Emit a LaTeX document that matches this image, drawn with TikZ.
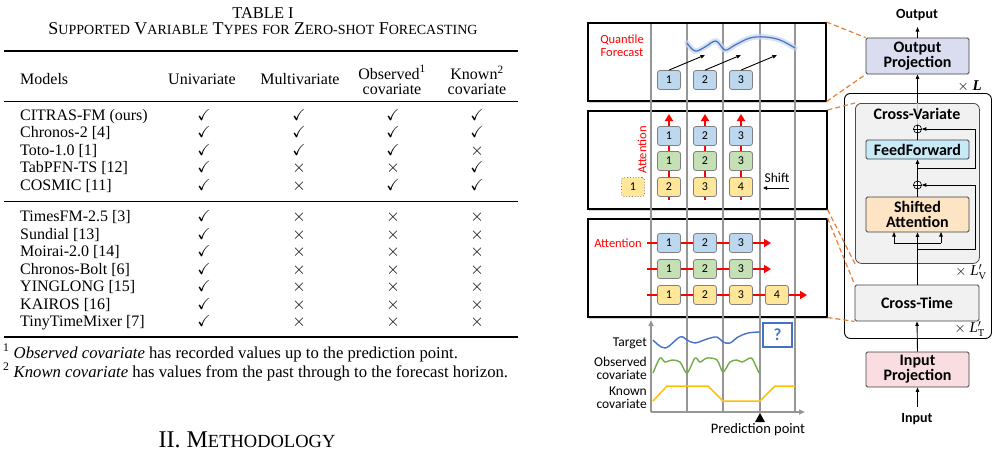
\documentclass[tikz,border=0pt]{standalone}
\usepackage{fontspec}
\usepackage{amssymb}
\setmainfont{Liberation Serif}
\newfontfamily\cf{Carlito}
\usetikzlibrary{arrows.meta,shadows,calc}
\definecolor{cblue}{HTML}{BDD7EE}
\definecolor{cgreen}{HTML}{C5E0B4}
\definecolor{cyellow}{HTML}{FFE699}
\definecolor{cred}{HTML}{FF0000}
\definecolor{lblue}{HTML}{4472C4}
\definecolor{lgreen}{HTML}{70AD47}
\definecolor{lyellow}{HTML}{FFC000}
\definecolor{corange}{HTML}{ED7D31}
\definecolor{opfill}{RGB}{218,221,240}
\definecolor{fffill}{RGB}{200,234,247}
\definecolor{safill}{RGB}{253,228,196}
\definecolor{ipfill}{RGB}{250,221,225}
\definecolor{gfill}{RGB}{241,241,241}
\definecolor{sepgray}{RGB}{150,150,150}
\newcommand\smc[1]{{\fontsize{14}{16}\selectfont #1}}
\newcommand\ck{$\checkmark$}
\newcommand\xx{$\times$}
\tikzset{
  tb/.style={font=\fontsize{16}{18}\selectfont, inner sep=0pt, text height=11pt, text depth=3.5pt},
  tok/.style={draw=gray, rounded corners=2.5pt, minimum width=23pt, minimum height=19pt, inner sep=0pt, font=\cf\fontsize{12}{14}\selectfont, line width=0.8pt},
  panel/.style={draw=black, line width=1.5pt, fill=white, drop shadow={shadow xshift=1.5pt, shadow yshift=-2.5pt, opacity=0.35}, inner sep=0pt, anchor=north west},
  blk/.style={draw=black!75, line width=0.8pt, rounded corners=1.5pt, minimum width=103pt, inner sep=0pt, font=\cf\bfseries\fontsize{16}{16}\selectfont, align=center},
  redarr/.style={cred, line width=2.5pt, -{Triangle[length=7pt,width=8pt]}},
  sepline/.style={sepgray, line width=1.5pt},
  odash/.style={corange, line width=1.2pt, dash pattern=on 5pt off 3pt},
  arr/.style={line width=0.9pt, -{Triangle[length=4.5pt,width=3.5pt]}},
  lbl/.style={font=\cf\fontsize{13.5}{14}\selectfont, inner sep=0pt, anchor=east},
}
\begin{document}
\begin{tikzpicture}[x=1pt,y=-1pt]
\useasboundingbox (0,0) rectangle (998,451);
% ================= TABLE =================
\node[font=\fontsize{16.5}{18}\selectfont, inner sep=0pt] (cap1) at (263,13) {TABLE I};
\node[font=\fontsize{18}{18}\selectfont, inner sep=0pt] (cap2) at (263,29) {S\smc{UPPORTED} V\smc{ARIABLE} T\smc{YPES} \smc{FOR} Z\smc{ERO-SHOT} F\smc{ORECASTING}};
\draw[line width=1.2pt] (4,51) -- (518,51);
\node[tb, anchor=west] (hm) at (20,81) {Models};
\node[tb] (hu) at (202,81) {Univariate};
\node[tb] (hmv) at (300,81) {Multivariate};
\node[tb, align=center, text height=, text depth=, font=\fontsize{16}{15}\selectfont] (ho) at (392,80) {Observed\textsuperscript{1}\\covariate};
\node[tb, align=center, text height=, text depth=, font=\fontsize{16}{15}\selectfont] (hk) at (477,80) {Known\textsuperscript{2}\\covariate};
\draw[line width=0.6pt] (4,101) -- (518,101);
\foreach \nm/\y/\a/\b/\c/\d [count=\i] in {
 {CITRAS-FM (ours)}/116.5/\ck/\ck/\ck/\ck,
 {Chronos-2 [4]}/134/\ck/\ck/\ck/\ck,
 {Toto-1.0 [1]}/151.5/\ck/\ck/\ck/\xx,
 {TabPFN-TS [12]}/169/\ck/\xx/\xx/\ck,
 {COSMIC [11]}/186.5/\ck/\xx/\ck/\ck,
 {TimesFM-2.5 [3]}/218/\ck/\xx/\xx/\xx,
 {Sundial [13]}/235.5/\ck/\xx/\xx/\xx,
 {Moirai-2.0 [14]}/253/\ck/\xx/\xx/\xx,
 {Chronos-Bolt [6]}/270.5/\ck/\xx/\xx/\xx,
 {YINGLONG [15]}/288/\ck/\xx/\xx/\xx,
 {KAIROS [16]}/305.5/\ck/\xx/\xx/\xx,
 {TinyTimeMixer [7]}/323/\ck/\xx/\xx/\xx}{
  \node[tb, anchor=west] (m\i) at (20,\y) {\nm};
  \node[tb] (ma\i) at (204,\y) {\a};
  \node[tb] (mb\i) at (299,\y) {\b};
  \node[tb] (mc\i) at (393,\y) {\c};
  \node[tb] (md\i) at (477,\y) {\d};
}
\draw[line width=0.6pt] (4,201) -- (518,201);
\draw[line width=1.2pt] (4,337) -- (518,337);
\node[anchor=west, font=\fontsize{16.7}{18}\selectfont, inner sep=0pt] (fn1) at (3,353) {\textsuperscript{1} \textit{Observed covariate} has recorded values up to the prediction point.};
\node[anchor=west, font=\fontsize{16.7}{18}\selectfont, inner sep=0pt] (fn2) at (3,372) {\textsuperscript{2} \textit{Known covariate} has values from the past through to the forecast horizon.};
\node[font=\fontsize{24}{26}\selectfont, inner sep=0pt] (sec) at (247,440) {II. M{\fontsize{18.5}{20}\selectfont ETHODOLOGY}};
% ================= PANELS =================
\node[panel, minimum width=238pt, minimum height=78pt] (p1) at (587,22) {};
\node[panel, minimum width=239pt, minimum height=98pt] (p2) at (587,110) {};
\node[panel, minimum width=239pt, minimum height=98pt] (p3) at (587,218) {};
% separators
\draw[sepline] (651,24) -- (651,316);
\foreach \x in {687,723,760,795} \draw[sepline] (\x,24) -- (\x,412);
\coordinate (org) at (651,412);
\coordinate (yax) at (651,320);
\coordinate (xax) at (805,412);
\draw[sepline, -{Triangle[length=6pt,width=5pt]}] (org) -- (yax);
\draw[sepline, -{Triangle[length=6pt,width=5pt]}] (org) -- (xax);
% panel 1
\node[font=\cf\fontsize{12.5}{13}\selectfont, text=cred, align=center, inner sep=0pt] (qf) at (622,45.5) {Quantile\\Forecast};
\draw[lblue!30, line width=5.5pt, line cap=round, opacity=0.7] plot[smooth, tension=0.6] coordinates {(687,43) (695,51) (705,47) (716,41) (725,50) (735,45) (750,38) (765,37) (780,40) (795,48)};
\draw[lblue, line width=1.2pt] plot[smooth, tension=0.6] coordinates {(687,43) (695,51) (705,47) (716,41) (725,50) (735,45) (750,38) (765,37) (780,40) (795,48)};
\foreach \x/\t [count=\i] in {669/1,705/2,741/3}{
  \node[tok, fill=cblue] (q\i) at (\x,80) {\t};
  \coordinate (qa\i) at (\x+36,55);
  \draw[arr] (q\i.north) -- (qa\i);
}
% panel 2
\foreach \x [count=\i] in {669,705,741}{
  \coordinate (vs\i) at (\x,200);
  \coordinate (ve\i) at (\x,114);
  \draw[redarr] (vs\i) -- (ve\i);
}
\foreach \x/\t [count=\i] in {669/1,705/2,741/3}{
  \node[tok, fill=cblue] (b\i) at (\x,136) {\t};
  \node[tok, fill=cgreen] (g\i) at (\x,161) {\t};
}
\foreach \x/\t [count=\i] in {669/2,705/3,741/4}{
  \node[tok, fill=cyellow] (y\i) at (\x,187) {\t};
}
\node[tok, fill=cyellow, dotted] (y0) at (633,187) {1};
\node[font=\cf\fontsize{12.5}{13}\selectfont, text=cred, rotate=90, inner sep=0pt] (att1) at (642,150) {Attention};
\node[font=\cf\fontsize{13.5}{14}\selectfont, inner sep=0pt] (shift) at (777,178) {Shift};
\coordinate (sh1) at (789,188);
\coordinate (sh2) at (763,188);
\draw[line width=0.8pt, -{Triangle[length=4pt,width=3.5pt]}] (sh1) -- (sh2);
% panel 3
\foreach \y/\e [count=\i] in {243/771,269/771,295/807}{
  \coordinate (hs\i) at (647,\y);
  \coordinate (he\i) at (\e,\y);
  \draw[redarr] (hs\i) -- (he\i);
}
\foreach \x/\t [count=\i] in {669/1,705/2,741/3}{
  \node[tok, fill=cblue] (hb\i) at (\x,243) {\t};
  \node[tok, fill=cgreen] (hg\i) at (\x,269) {\t};
  \node[tok, fill=cyellow] (hy\i) at (\x,295) {\t};
}
\node[tok, fill=cyellow] (hy4) at (777,295) {4};
\node[font=\cf\fontsize{12.5}{13}\selectfont, text=cred, anchor=east, inner sep=0pt] (att2) at (642,243) {Attention};
% bottom chart
\draw[lblue, line width=1.4pt] plot[smooth, tension=0.6] coordinates {(653,340) (665,348) (680,337) (687,340) (695,343) (707,339) (717,337) (723,342) (730,343) (738,337) (748,333) (760,332)};
\draw[lgreen, line width=1.4pt] plot[smooth, tension=0.5] coordinates {(653,373) (660,358) (665,362) (672,360) (680,362) (687,373) (695,358) (700,362) (707,358) (717,360) (723,372) (730,362) (737,360) (742,362) (750,358) (753,360) (759,373)};
\draw[lyellow, line width=1.5pt] (653,401) -- (667,386) -- (708,386) -- (723,401) -- (760,401) -- (775,386) -- (795,386);
\node[draw=lblue, line width=1.2pt, minimum width=29pt, minimum height=24pt, inner sep=0pt, text=lblue, font=\cf\bfseries\fontsize{17}{17}\selectfont] (qm) at (777.5,335) {?};
\node[lbl] (lt) at (647,343) {Target};
\node[lbl] (lo1) at (647,361.5) {Observed};
\node[lbl] (lo2) at (647,374.5) {covariate};
\node[lbl] (lk1) at (647,391.5) {Known};
\node[lbl] (lk2) at (647,403.5) {covariate};
\fill (760,413) -- (755,422) -- (765,422) -- cycle;
\node[font=\cf\fontsize{14.5}{15}\selectfont, inner sep=0pt] (pp) at (758,430) {Prediction point};
% ================= RIGHT BLOCKS =================
\node[draw, line width=0.9pt, rounded corners=6pt, minimum width=147pt, minimum height=245pt, anchor=north west, inner sep=0pt] (outer) at (844,93) {};
\node[blk, fill=opfill, minimum height=36pt] (outp) at (917.5,56) {Output\\[-1pt]Projection};
\node[font=\cf\bfseries\fontsize{14}{14}\selectfont, inner sep=0pt] (outl) at (917,15) {Output};
\coordinate (outt) at (917.5,27);
\draw[arr] (outp.north) -- (outt);
\node[draw=black!70, line width=0.8pt, fill=gfill, rounded corners=6pt, minimum width=124pt, minimum height=160pt, anchor=north west, inner sep=0pt] (cv) at (855,103) {};
\node[draw, circle, inner sep=0pt, minimum size=8pt, line width=0.7pt, fill=white] (pl1) at (917.5,129) {};
\draw[line width=0.7pt] (pl1.north) -- (pl1.south) (pl1.west) -- (pl1.east);
\draw[arr] (pl1.north) -- (outp.south);
\draw[gray!45, line width=0.9pt] (pl1.north) -- (cv.north);
\node[font=\cf\bfseries\fontsize{16}{16}\selectfont, inner sep=0pt] (cvt) at (917,114) {Cross-Variate};
\node[blk, fill=fffill, minimum height=19pt] (ff) at (917.5,149.5) {FeedForward};
\node[draw, circle, inner sep=0pt, minimum size=8pt, line width=0.7pt, fill=white] (pl2) at (917.5,185) {};
\draw[line width=0.7pt] (pl2.north) -- (pl2.south) (pl2.west) -- (pl2.east);
\node[blk, fill=safill, minimum height=35pt] (sa) at (917.5,214.5) {Shifted\\[-1pt]Attention};
\node[blk, fill=gfill, minimum width=124pt, minimum height=36pt] (ct) at (917,303) {Cross-Time};
\node[blk, fill=ipfill, minimum height=35pt] (inp) at (917.5,369.5) {Input\\[-1pt]Projection};
\node[font=\cf\bfseries\fontsize{14}{14}\selectfont, inner sep=0pt] (inl) at (917,419) {Input};
\coordinate (ins) at (917.5,407);
\draw[arr] (ins) -- (inp.south);
\draw[arr] (inp.north) -- (ct.south);
% inside cross-variate
\coordinate (spl) at (917.5,243);
\coordinate (splL) at (894,243);
\coordinate (splR) at (941,243);
\coordinate (saL) at (894,232);
\coordinate (saR) at (941,232);
\draw[line width=0.9pt] (ct.north -| spl) -- (spl);
\draw[arr] (spl) -- (sa.south);
\draw[line width=0.9pt] (splL) -- (splR);
\draw[arr] (splL) -- (saL);
\draw[arr] (splR) -- (saR);
\coordinate (r2a) at (917.5,249);
\coordinate (r2b) at (975,249);
\draw[arr] (r2a) -- (r2b) |- (pl2.east);
\draw[line width=0.9pt] (sa.north) -- (pl2.south);
\draw[arr] (pl2.north) -- (ff.south);
\coordinate (r1a) at (917.5,168);
\coordinate (r1b) at (975,168);
\draw[arr] (r1a) -- (r1b) |- (pl1.east);
\draw[line width=0.9pt] (ff.north) -- (pl1.south);
% multipliers
\node[anchor=east, inner sep=0pt, font=\fontsize{15}{15}\selectfont] (xl) at (982,86) {$\times$ \textbf{\textit{L}}};
\node[anchor=east, inner sep=0pt, font=\fontsize{15}{15}\selectfont] (xlv) at (987,272) {$\times$ \textit{L}$'_{\mathrm{V}}$};
\node[anchor=east, inner sep=0pt, font=\fontsize{15}{15}\selectfont] (xlt) at (985,329) {$\times$ \textit{L}$'_{\mathrm{T}}$};
% orange dashed zoom lines
\draw[odash] (p1.north east) -- (outp.north west);
\draw[odash] (p1.south east) -- (outp.south west);
\draw[odash] (p2.north east) -- (cv.north west);
\draw[odash] (p2.south east) -- (cv.south west);
\draw[odash] (p3.north east) -- (ct.north west);
\draw[odash] (p3.south east) -- (ct.south west);
\end{tikzpicture}
\end{document}
